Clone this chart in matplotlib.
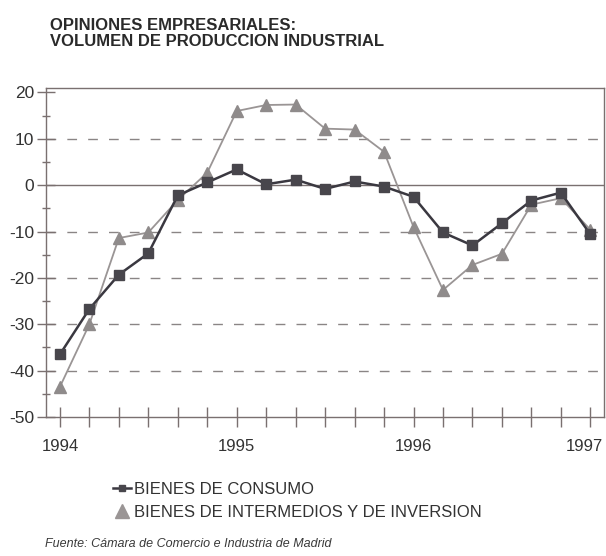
import matplotlib
matplotlib.use("Agg")
import matplotlib.pyplot as plt
from matplotlib.lines import Line2D
from matplotlib.transforms import ScaledTranslation

plt.rcParams['font.family'] = ['Liberation Sans', 'DejaVu Sans']
plt.rcParams['axes.unicode_minus'] = False

# two-monthly readings, Jan 1994 .. Jan 1997
periodos = list(range(19))
year_ticks = [0, 6, 12, 18]
year_labels = ["1994", "1995", "1996", "1997"]

consumo = [-36.5, -26.7, -19.3, -14.7, -2.2, 0.6, 3.4, 0.2, 1.2, -0.8, 0.8,
           -0.3, -2.5, -10.2, -13.0, -8.2, -3.3, -1.6, -10.6]
intermedios = [-43.5, -30.0, -11.4, -10.2, -3.2, 2.7, 16.0, 17.3, 17.4, 12.2,
               12.0, 7.2, -9.0, -22.6, -17.2, -14.8, -4.2, -2.8, -9.6]

grid_vals = [10, -10, -20, -30, -40]

txt = '#333333'
axc = '#7a7070'

fig = plt.figure(figsize=(6.06, 5.56), dpi=100)
ax = fig.add_axes([0.076, 0.25, 0.921, 0.592])

for g in grid_vals:
    ax.axhline(g, color='#8a8585', lw=1, dashes=(7, 8), zorder=1)
ax.axhline(0, color=axc, lw=1, zorder=1)

ax.plot(periodos, intermedios, color='#9a9595', lw=1.3, marker='^',
        ms=9, mfc='#8f8b8b', mec='#8f8b8b', zorder=2)
ax.plot(periodos, consumo, color='#3a3840', lw=1.8, marker='s',
        ms=6.5, mfc='#48464c', mec='#48464c', zorder=3)

ax.set_xlim(-0.47, 18.47)
ax.set_ylim(-50, 21)
ax.set_xticks(periodos)
ax.set_xticklabels([year_labels[year_ticks.index(p)] if p in year_ticks else "" for p in periodos])
ax.set_yticks([20, 10, 0, -10, -20, -30, -40, -50])
ax.set_yticks([15, 5, -5, -15, -25, -35, -45], minor=True)

for s in ax.spines.values():
    s.set_color(axc)
    s.set_linewidth(1)
ax.tick_params(axis='x', direction='inout', length=14, width=1, color=axc,
               labelsize=12, labelcolor=txt, pad=9)
ax.tick_params(axis='y', direction='inout', length=13, width=1, color=axc,
               labelsize=12.5, labelcolor=txt, pad=2)
ax.tick_params(axis='y', which='minor', direction='inout', length=6, width=1, color=axc)

# last year label sits against the right edge
lbl = ax.get_xticklabels()[-1]
lbl.set_transform(lbl.get_transform() + ScaledTranslation(-6 / 100, 0, fig.dpi_scale_trans))

fig.text(0.082, 0.968, "OPINIONES EMPRESARIALES:\nVOLUMEN DE PRODUCCION INDUSTRIAL",
         fontsize=12, fontweight='bold', color='#2a2a2a', va='top', ha='left',
         linespacing=1.1)

handles = [Line2D([], [], color='#3a3840', lw=1.8, marker='s', ms=5, mfc='#48464c', mec='#48464c'),
           Line2D([], [], color='none', marker='^', ms=10, mfc='#9a9595', mec='#9a9595')]
fig.legend(handles, ["BIENES DE CONSUMO", "BIENES DE INTERMEDIOS Y DE INVERSION"],
           loc='upper left', bbox_to_anchor=(0.175, 0.145), frameon=False,
           fontsize=12, labelcolor=txt, handlelength=1.1, handletextpad=0.2,
           borderaxespad=0, labelspacing=0.45)

fig.text(0.074, 0.01, u"Fuente: Cámara de Comercio e Industria de Madrid",
         fontsize=9, style='italic', color='#3a3a3a', ha='left', va='bottom')

fig.savefig("out.png", dpi=100)
